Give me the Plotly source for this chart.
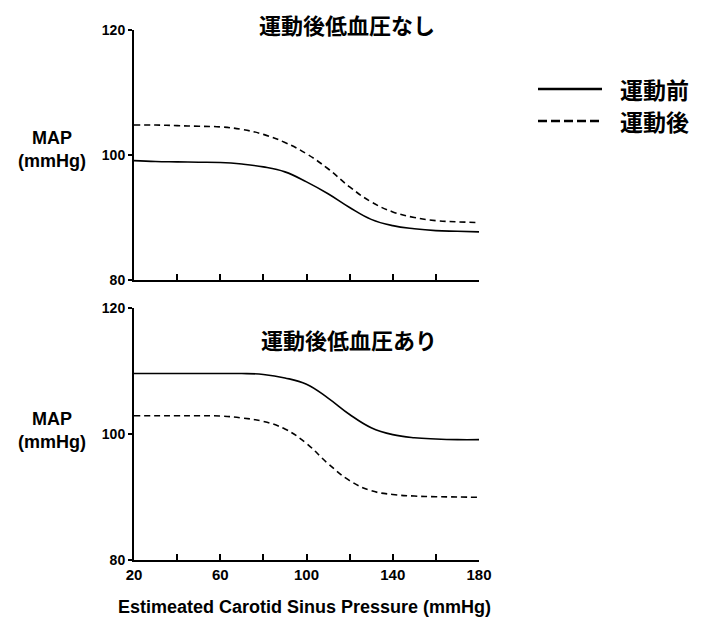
import plotly.graph_objects as go

x_vals = [20, 30, 40, 50, 60, 70, 80, 90, 100, 110, 120, 130, 140, 150, 160, 170, 180]
top_pre = [99.1, 98.95, 98.9, 98.85, 98.8, 98.55, 98.1, 97.3, 95.7, 93.8, 91.6, 89.7, 88.7, 88.2, 87.9, 87.8, 87.7]
top_post = [104.8, 104.8, 104.7, 104.6, 104.5, 104.1, 103.3, 102.0, 100.2, 97.8, 94.9, 92.5, 90.9, 90.0, 89.5, 89.3, 89.2]
bot_pre = [109.6, 109.6, 109.6, 109.6, 109.6, 109.6, 109.45, 108.9, 107.9, 105.7, 103.1, 101.0, 99.9, 99.4, 99.2, 99.1, 99.1]
bot_post = [102.9, 102.9, 102.9, 102.9, 102.85, 102.55, 102.0, 100.8, 98.5, 95.3, 92.6, 91.0, 90.4, 90.15, 90.05, 90.0, 89.95]

x_ticks = [20, 40, 60, 80, 100, 120, 140, 160, 180]
x_ticktext = ["20", "", "60", "", "100", "", "140", "", "180"]
y_ticks = [80, 100, 120]

panel_titles = ["運動後低血圧なし", "運動後低血圧あり"]
legend_labels = ["運動前", "運動後"]
y_title = "MAP<br>(mmHg)"
x_title = "Estimeated Carotid Sinus Pressure (mmHg)"

# page has an 8px body margin; figure sized to fill the visible window
OFF = 8
W, H = 710 - OFF, 621 - OFF
L, T = 134 - OFF, 30 - OFF
R = W - (479 - OFF)
B = H - (560 - OFF)
pw = W - L - R
ph = H - T - B

def px_x(x):
    return (x - OFF - L) / pw

def px_y(y):
    return (H - B - (y - OFF)) / ph

fig = go.Figure()
line_w = 1.6
dash = "6px,4px"
for xa, ya, pre, post in (("x", "y", top_pre, top_post), ("x2", "y2", bot_pre, bot_post)):
    fig.add_trace(go.Scatter(x=x_vals, y=pre, mode="lines", xaxis=xa, yaxis=ya,
                             line=dict(color="black", width=line_w, shape="spline", smoothing=1.2),
                             showlegend=False))
    fig.add_trace(go.Scatter(x=x_vals, y=post, mode="lines", xaxis=xa, yaxis=ya,
                             line=dict(color="black", width=line_w, dash=dash, shape="spline", smoothing=1.2),
                             showlegend=False))

tickfont_x = dict(family="Liberation Sans, Arial", size=15, color="black", weight="bold")
tickfont_y = dict(family="Liberation Sans, Arial", size=14, color="black", weight="bold")

common_x = dict(range=[20, 180], tickvals=x_ticks, ticktext=x_ticktext, ticks="inside", ticklen=6,
                tickwidth=1.5, tickcolor="black", showline=True, linecolor="black", linewidth=2,
                showgrid=False, zeroline=False, tickfont=tickfont_x)
common_y = dict(range=[80, 120], tickvals=y_ticks, ticks="outside", ticklen=4, tickwidth=2,
                tickcolor="black", showline=True, linecolor="black", linewidth=2,
                showgrid=False, zeroline=False, tickfont=tickfont_y)

top_dom = [px_y(280), 1.0]
bot_dom = [0.0, px_y(308)]

fig.update_layout(
    width=W, height=H,
    margin=dict(l=L, r=R, t=T, b=B),
    paper_bgcolor="white", plot_bgcolor="white",
    xaxis=dict(common_x, domain=[0, 1], anchor="y", showticklabels=False),
    yaxis=dict(common_y, domain=top_dom, anchor="x"),
    xaxis2=dict(common_x, domain=[0, 1], anchor="y2", matches="x"),
    yaxis2=dict(common_y, domain=bot_dom, anchor="x2"),
    showlegend=False,
)

cjk = "Noto Sans CJK JP"
ann = []
ann.append(dict(text=panel_titles[0], x=px_x(347), y=px_y(24), xref="paper", yref="paper",
                showarrow=False, xanchor="center", yanchor="middle",
                font=dict(family=cjk, size=22, color="black", weight="bold")))
ann.append(dict(text=panel_titles[1], x=px_x(349), y=px_y(339), xref="paper", yref="paper",
                showarrow=False, xanchor="center", yanchor="middle",
                font=dict(family=cjk, size=22, color="black", weight="bold")))
for yc in (150, 431):
    ann.append(dict(text=y_title, x=px_x(52), y=px_y(yc), xref="paper", yref="paper",
                    showarrow=False, xanchor="center", yanchor="middle", align="center",
                    font=dict(family="Liberation Sans, Arial", size=18, color="black", weight="bold")))
ann.append(dict(text=x_title, x=px_x(304), y=px_y(607), xref="paper", yref="paper",
                showarrow=False, xanchor="center", yanchor="middle",
                font=dict(family="Liberation Sans, Arial", size=18, color="black", weight="bold")))

leg_y = [89, 121]
for i, lab in enumerate(legend_labels):
    ann.append(dict(text=lab, x=px_x(618), y=px_y(leg_y[i]), xref="paper", yref="paper",
                    showarrow=False, xanchor="left", yanchor="middle",
                    font=dict(family=cjk, size=23, color="black", weight="bold")))
fig.update_layout(annotations=ann)

shapes = [
    dict(type="line", xref="paper", yref="paper", x0=px_x(538), x1=px_x(602), y0=px_y(leg_y[0]), y1=px_y(leg_y[0]),
         line=dict(color="black", width=2.5)),
    dict(type="line", xref="paper", yref="paper", x0=px_x(538), x1=px_x(602), y0=px_y(leg_y[1]), y1=px_y(leg_y[1]),
         line=dict(color="black", width=2.5, dash="9px,4px")),
]
fig.update_layout(shapes=shapes)

fig.write_html("out.html")
